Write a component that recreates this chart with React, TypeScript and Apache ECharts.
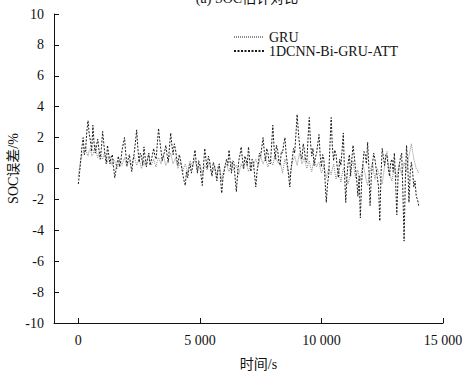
import React, { useEffect, useRef } from "react";
import * as echarts from "echarts";

const TIME_STEP = 50; // s between samples
const SERIES_NAMES = ["GRU", "1DCNN-Bi-GRU-ATT"];
const X_TICKS = [0, 5000, 10000, 15000];
const Y_TICKS = [-10, -8, -6, -4, -2, 0, 2, 4, 6, 8, 10];

const GRU_ERR = [
  -0.5, 0.1, 0.6, 0.9, 1.0, 1.3, 1.4, 1.0, 0.8, 1.2,
  1.3, 0.8, 0.9, 1.2, 1.5, 1.0, 0.7, 1.0, 1.1, 0.8,
  0.6, 0.9, 1.0, 0.6, 0.4, 0.7, 0.8, 0.4, 0.2, 0.6,
  0.5, 0.2, 0.0, 0.3, 0.6, 0.4, 0.2, 0.5, 0.7, 0.4,
  0.1, 0.4, 0.5, 0.2, 0.3, 0.6, 0.8, 0.5, 0.2, 0.4,
  0.6, 0.3, 0.0, 0.3, 0.5, 0.2, 0.4, 0.7, 0.9, 0.5,
  0.2, 0.4, 0.6, 0.3, 0.1, 0.5, 0.7, 0.5, 0.3, 0.6,
  0.9, 0.5, 0.2, 0.4, 0.6, 0.8, 1.0, 0.6, 0.3, 0.5,
  0.7, 0.3, 0.0, 0.2, 0.4, 0.1, -0.2, 0.1, 0.3, 0.0,
  -0.3, 0.2, 0.5, 0.3, 0.1, 0.4, 0.6, 0.2, -0.2, 0.1,
  0.3, 0.0, -0.4, -0.1, 0.2, 0.1, -0.1, 0.2, 0.4, 0.0,
  -0.3, -0.1, 0.1, -0.2, -0.5, -0.1, 0.2, -0.3, -0.8, -0.3,
  0.0, 0.2, 0.3, 0.0, -0.2, 0.1, 0.4, 0.1, -0.1, 0.1,
  0.2, -0.1, -0.4, 0.0, 0.3, 0.1, 0.0, 0.3, 0.5, 0.1,
  -0.2, 0.1, 0.4, 0.2, 0.1, 0.4, 0.6, 0.4, 0.2, 0.5,
  0.8, 0.5, 0.3, 0.5, 0.7, 0.4, 0.1, 0.4, 0.6, 0.4,
  0.2, 0.6, 0.9, 0.6, 0.4, 0.6, 0.5, 0.1, -0.3, 0.2,
  0.6, 0.3, 0.1, -0.3, -0.6, -0.1, 0.4, 0.6, 0.8, 0.5,
  0.2, 0.6, 1.0, 0.6, 0.3, 0.5, 0.7, 0.3, 0.0, 0.3,
  0.5, 0.1, -0.2, 0.2, 0.6, 0.3, 0.1, 0.3, 0.4, 0.0,
  -0.3, -0.1, 0.2, -0.2, -0.6, -0.3, 0.0, -0.2, -0.4, 0.0,
  0.3, -0.2, -0.7, -0.4, -0.1, -0.5, -0.9, -0.4, 0.0, -0.2,
  -0.5, -0.8, -1.0, -0.6, -0.2, 0.2, 0.5, -0.1, -0.6, -0.3,
  -0.1, -0.5, -0.8, -0.2, 0.3, 0.0, -0.4, -0.8, -1.1, -0.6,
  -0.2, 0.1, 0.4, -0.2, -0.7, -0.3, 0.0, -0.3, -0.5, -0.8,
  -1.0, -0.4, 0.2, 0.7, 1.1, 0.3, -0.3, -0.6, -0.8, -0.3,
  0.1, -0.3, -0.6, -0.1, 0.3, -0.1, -0.4, 0.0, 0.4, 0.1,
  -0.2, 0.3, 0.8, 1.2, 1.6, 1.1, 0.6, 0.3, 0.0, -0.1,
  -0.3,
];

const ATT_ERR = [
  -1.0, -0.3, 0.5, 1.4, 2.0, 0.9, 1.2, 2.4, 3.1, 2.2,
  1.8, 1.1, 2.8, 1.6, 1.0, 1.5, 1.9, 1.2, 0.6, 1.3,
  2.4, 1.6, 0.8, 0.3, 1.5, 0.9, 0.3, 0.7, 0.9, 0.1,
  -0.6, -0.1, 0.4, 0.8, 0.1, 0.5, 1.2, 1.6, 2.0, 1.0,
  0.2, 0.6, 0.9, 0.3, -0.2, 0.5, 1.0, 1.7, 2.5, 1.3,
  0.4, 1.0, 0.8, 0.2, 1.4, 0.7, 0.1, 0.6, 1.0, 0.2,
  0.5, 0.9, 1.3, 0.8, 0.6, 1.6, 2.6, 1.8, 1.2, 0.5,
  0.8, 1.1, 1.5, 0.9, 0.4, 1.4, 2.3, 1.5, 0.9, 1.6,
  1.2, 0.6, 0.2, 0.9, 0.6, 0.1, -0.4, -0.8, -1.1, -0.2,
  -0.6, 0.0, 0.3, -0.3, 0.1, 0.7, 1.2, 0.4, -0.3, 0.5,
  0.2, -0.5, -1.1, 0.2, 1.3, 0.6, 0.0, 0.8, 0.5, -0.1,
  -0.5, 0.4, 0.2, -0.3, -0.8, 0.1, 0.3, -0.7, -1.6, -0.6,
  -0.2, 0.3, 0.6, 0.2, 1.2, 0.4, -0.3, 0.5, 0.4, -0.6,
  -1.5, -0.4, 0.5, 0.9, 1.4, 0.6, 0.0, 0.8, 0.6, 0.2,
  1.4, 0.5, -0.2, 0.6, 0.4, -0.4, -1.2, -0.2, 0.3, 1.0,
  0.8, 1.4, 2.0, 1.1, 0.5, 1.3, 1.0, 0.4, 0.3, 1.5,
  2.8, 1.4, 0.6, 1.5, 1.2, 0.4, 0.2, 1.1, 1.0, 1.6,
  2.0, 0.9, 0.3, -0.5, -1.2, 0.0, 0.6, 1.3, 1.0, 2.2,
  3.5, 2.4, 1.5, 0.9, 0.6, 1.6, 1.2, 0.5, 0.4, 2.0,
  3.3, 1.7, 0.8, 1.3, 0.2, 0.7, 1.0, 1.6, 2.2, 0.8,
  0.1, 0.9, 0.6, -0.8, -2.2, -1.0, -0.4, 1.5, 3.3, 1.4,
  0.5, 1.2, 0.9, 0.1, -0.6, 0.6, 0.2, 1.2, 2.3, -0.3,
  -2.2, -0.5, 0.4, 0.9, -0.5, 0.6, 1.5, 0.8, 0.0, -0.7,
  -1.8, -0.5, -3.2, -1.0, 0.2, 1.1, 0.9, 0.3, 1.7, 0.1,
  -2.4, -0.6, 0.3, 1.0, 0.6, 0.0, -0.6, -1.2, -3.4, -0.4,
  1.3, 0.7, 0.2, 0.9, 0.8, 0.0, -0.5, 0.4, 0.6, -0.2,
  1.0, -0.8, -3.0, -0.6, 0.2, 0.7, 1.0, -1.5, -4.7, -0.8,
  1.5, 0.3, -2.2, -0.3, 0.4, -0.2, -1.2, -0.8, -1.8, -2.0,
  -2.4,
];

const FONT = "'Liberation Serif', 'Noto Sans CJK SC', serif";

const fmtThousands = (v: number) =>
  String(v).replace(/\B(?=(\d{3})+(?!\d))/g, " ");

export default function App() {
  const ref = useRef<HTMLDivElement>(null);
  useEffect(() => {
    if (!ref.current) return;
    const chart = echarts.init(ref.current, undefined, { renderer: "svg" });
    const toPairs = (arr: number[]) => arr.map((v, i) => [i * TIME_STEP, v]);
    chart.setOption({
      animation: false,
      backgroundColor: "#ffffff",
      grid: { left: 54, right: 22, top: 14, bottom: 51, outerBoundsMode: "none" },
      graphic: [
        {
          type: "text",
          x: 247,
          y: -9,
          style: {
            text: "(a) SOC估计对比",
            font: `14px ${FONT}`,
            fill: "#111",
            textAlign: "center",
            textVerticalAlign: "top",
          },
        },
      ],
      legend: {
        orient: "vertical",
        left: 228,
        top: 25,
        itemWidth: 30,
        itemHeight: 14,
        itemGap: 0,
        data: SERIES_NAMES,
        itemStyle: { opacity: 0 },
        textStyle: { fontFamily: FONT, fontSize: 14, color: "#111", lineHeight: 14 },
      },
      xAxis: {
        type: "value",
        min: -1000,
        max: 15000,
        name: "时间/s",
        nameLocation: "middle",
        nameGap: 34,
        nameMoveOverlap: false,
        nameTextStyle: { fontFamily: FONT, fontSize: 14, color: "#111", padding: [0, 0, 0, 20] },
        axisLine: { show: true, onZero: false, lineStyle: { color: "#111", width: 1 } },
        axisTick: { show: true, inside: true, length: 5, customValues: X_TICKS, lineStyle: { color: "#111" } },
        axisLabel: {
          customValues: X_TICKS,
          margin: 10,
          fontFamily: FONT,
          fontSize: 14,
          color: "#111",
          formatter: (v: number) => fmtThousands(v),
        },
        splitLine: { show: false },
      },
      yAxis: {
        type: "value",
        min: -10,
        max: 10,
        interval: 2,
        name: "SOC误差/%",
        nameLocation: "middle",
        nameGap: 34,
        nameMoveOverlap: false,
        nameTextStyle: { fontFamily: FONT, fontSize: 14, color: "#111" },
        axisLine: { show: true, onZero: false, lineStyle: { color: "#111", width: 1 } },
        axisTick: { show: true, inside: true, length: 5, lineStyle: { color: "#111" } },
        axisLabel: {
          customValues: Y_TICKS,
          margin: 10,
          fontFamily: FONT,
          fontSize: 14,
          color: "#111",
        },
        splitLine: { show: false },
      },
      series: [
        {
          name: SERIES_NAMES[0],
          type: "line",
          data: toPairs(GRU_ERR),
          symbol: "none",
          lineStyle: { color: "#8a8a8a", width: 1, type: [1, 1] },
          itemStyle: { color: "#8a8a8a" },
          z: 2,
        },
        {
          name: SERIES_NAMES[1],
          type: "line",
          data: toPairs(ATT_ERR),
          symbol: "none",
          lineStyle: { color: "#1a1a1a", width: 1, type: [2, 1.5] },
          itemStyle: { color: "#1a1a1a" },
          z: 3,
        },
      ],
    });
    return () => chart.dispose();
  }, []);
  return (
    <div
      ref={ref}
      style={{ position: "fixed", left: 0, top: 0, width: 465, height: 374 }}
    />
  );
}
